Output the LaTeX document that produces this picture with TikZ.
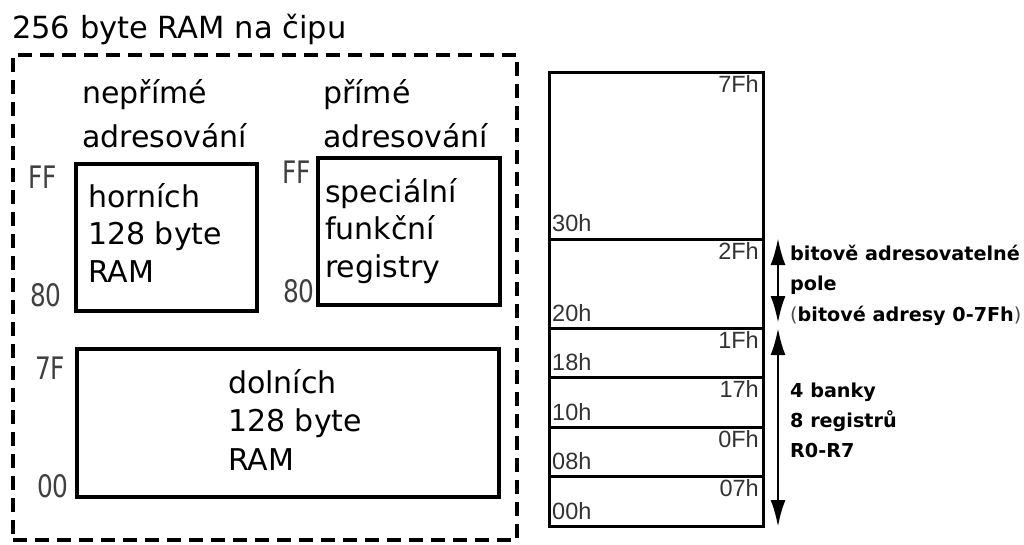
\documentclass[tikz,border=0pt]{standalone}
\usepackage{fontspec}
\setmainfont{DejaVu Sans}
\newfontfamily\hexfont[FakeStretch=0.8]{DejaVu Sans}
\newfontfamily\lblfont{Liberation Sans}
\usetikzlibrary{arrows.meta,calc}
\begin{document}
\begin{tikzpicture}[x=1pt,y=-1pt,
  box/.style={draw,line width=3.3pt,rectangle,inner sep=0pt,outer sep=0pt},
  dashbox/.style={draw,line width=3.5pt,rectangle,inner sep=0pt,outer sep=0pt,dash pattern=on 14pt off 8pt},
  row/.style={draw,line width=3pt,rectangle,inner sep=0pt,outer sep=0pt,minimum width=214pt},
  txt/.style={inner sep=0pt,anchor=base west,align=left,font=\fontsize{30}{37.5}\selectfont},
  hdr/.style={inner sep=0pt,anchor=base west,align=left,font=\fontsize{30}{44}\selectfont},
  hex/.style={inner sep=0pt,anchor=base west,text=black!75,font=\hexfont\fontsize{31}{31}\selectfont},
  tr/.style={inner sep=0pt,anchor=base east,text=black!80,font=\lblfont\fontsize{23.5}{23.5}\selectfont},
  bl/.style={inner sep=0pt,anchor=base west,text=black!80,font=\lblfont\fontsize{23.5}{23.5}\selectfont},
  note/.style={inner sep=0pt,anchor=base west,align=left,font=\bfseries\fontsize{19.2}{30.5}\selectfont},
  arr/.style={line width=2.8pt,{Latex[length=27pt,width=15pt]}-{Latex[length=27pt,width=15pt]}}
]
\useasboundingbox (0,0) rectangle (1024,544);

% title
\node[inner sep=0pt,anchor=base west,font=\fontsize{30.5}{36}\selectfont] (title) at (12,38) {256 byte RAM na čipu};

% dashed outer box
\node[dashbox,minimum width=504pt,minimum height=485pt] (chip) at (265,297.5) {};

% headers (anchor = baseline of last line)
\node[hdr] (nep) at (82,147) {nepřímé\\adresování};
\node[hdr] (prim) at (323,147) {přímé\\adresování};

% boxes
\node[box,minimum width=181pt,minimum height=147pt] (hi) at (166.5,237.5) {};
\node[box,minimum width=182pt,minimum height=147pt] (sfr) at (409,231.5) {};
\node[box,minimum width=422pt,minimum height=148pt] (lo) at (288,423) {};

\node[txt] (hitxt) at (88,282) {horních\\128 byte\\RAM};
\node[txt] (sfrtxt) at (325,277) {speciální\\funkční\\registry};
\node[txt,font=\fontsize{30}{38.5}\selectfont] (lotxt) at (228,470) {dolních\\128 byte\\RAM};

% hex labels
\node[hex] (ff1) at (28,188) {FF};
\node[hex] (h801) at (30,306) {80};
\node[hex] (ff2) at (282,183) {FF};
\node[hex] (h802) at (283,302) {80};
\node[hex] (h7f) at (35,379) {7F};
\node[hex] (h00) at (37,497) {00};

% right column
\node[row,minimum height=167pt] (r7) at (656,155.5) {};
\node[row,minimum height=89pt] (r2) at (656,283.5) {};
\node[row,minimum height=49pt] (r3) at (656,352.5) {};
\node[row,minimum height=50pt] (rb2) at (656,402) {};
\node[row,minimum height=49pt] (rb1) at (656,451.5) {};
\node[row,minimum height=50pt] (rb0) at (656,501) {};

\node[tr] (l7f) at ($(r7.north east)+(-4,20)$) {7Fh};
\node[bl] (l30) at ($(r7.south west)+(3,-8)$) {30h};
\node[tr] (l2f) at ($(r2.north east)+(-4,20)$) {2Fh};
\node[bl] (l20) at ($(r2.south west)+(3,-7)$) {20h};
\node[tr] (l1f) at ($(r3.north east)+(-4,20)$) {1Fh};
\node[bl] (l18) at ($(r3.south west)+(3,-7)$) {18h};
\node[tr] (l17) at ($(rb2.north east)+(-4,20)$) {17h};
\node[bl] (l10) at ($(rb2.south west)+(3,-7)$) {10h};
\node[tr] (l0f) at ($(rb1.north east)+(-4,20)$) {0Fh};
\node[bl] (l08) at ($(rb1.south west)+(3,-7)$) {08h};
\node[tr] (l07) at ($(rb0.north east)+(-4,20)$) {07h};
\node[bl] (l00) at ($(rb0.south west)+(3,-7)$) {00h};

% arrows
\coordinate (ua) at (778,238);
\coordinate (ub) at (778,323);
\coordinate (la) at (778,328);
\coordinate (lb) at (778,527);
\draw[arr] (ua) -- (ub);
\draw[arr] (la) -- (lb);

\node[note] (bitnote) at (790,321) {bitově adresovatelné\\pole\\{\mdseries\color{black!70}(}bitové adresy 0-7Fh{\mdseries\color{black!70})}};
\node[note,font=\bfseries\fontsize{19.2}{30}\selectfont] (banknote) at (790,457) {4 banky\\8 registrů\\R0-R7};
\end{tikzpicture}
\end{document}
